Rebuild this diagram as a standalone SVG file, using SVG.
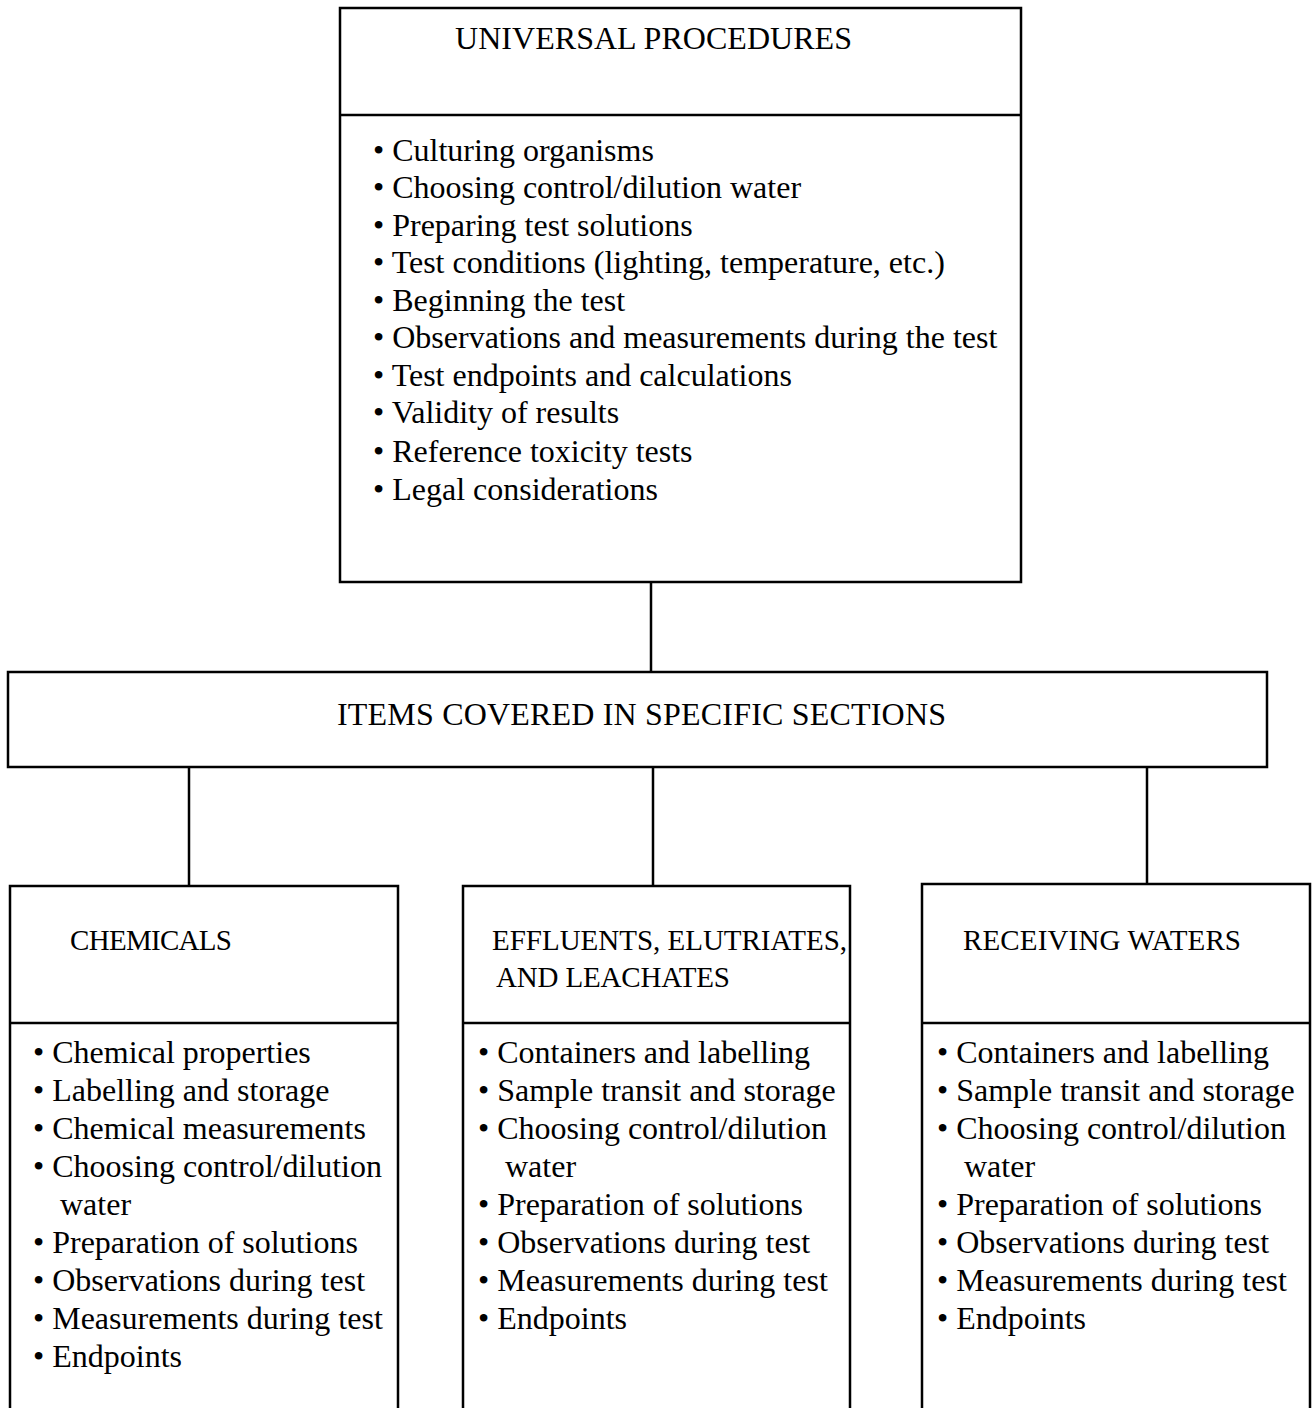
<svg xmlns="http://www.w3.org/2000/svg" width="1315" height="1408" viewBox="0 0 1315 1408">
<style>
rect.box{fill:none;stroke:#000;stroke-width:2.5}
line{stroke:#000;stroke-width:2.5}
text{font-family:"Liberation Serif","Times New Roman",serif;font-size:32px;fill:#000}
text.h{font-size:29px}
</style>
<rect width="1315" height="1408" fill="#fff"/>
<g id="connectors">
<line x1="651" y1="582" x2="651" y2="672"/>
<line x1="189" y1="767" x2="189" y2="886"/>
<line x1="653" y1="767" x2="653" y2="886"/>
<line x1="1147" y1="767" x2="1147" y2="885"/>
</g>
<g id="universal">
<rect class="box" x="340" y="8" width="681" height="574"/>
<line x1="340" y1="115" x2="1021" y2="115"/>
<text x="455" y="49" textLength="397">UNIVERSAL PROCEDURES</text>
<text x="373" y="161">• Culturing organisms</text>
<text x="373" y="198">• Choosing control/dilution water</text>
<text x="373" y="236">• Preparing test solutions</text>
<text x="373" y="273">• Test conditions (lighting, temperature, etc.)</text>
<text x="373" y="311">• Beginning the test</text>
<text x="373" y="348">• Observations and measurements during the test</text>
<text x="373" y="386">• Test endpoints and calculations</text>
<text x="373" y="423">• Validity of results</text>
<text x="373" y="462">• Reference toxicity tests</text>
<text x="373" y="500">• Legal considerations</text>
</g>
<g id="items">
<rect class="box" x="8" y="672" width="1259" height="95"/>
<text x="337" y="725" textLength="609">ITEMS COVERED IN SPECIFIC SECTIONS</text>
</g>
<g id="chemicals">
<path d="M10 1410 V886 H398 V1410" fill="none" stroke="#000" stroke-width="2.5"/>
<line x1="10" y1="1023" x2="398" y2="1023"/>
<text class="h" x="70" y="950" textLength="162">CHEMICALS</text>
<text x="33" y="1063">• Chemical properties</text>
<text x="33" y="1101">• Labelling and storage</text>
<text x="33" y="1139">• Chemical measurements</text>
<text x="33" y="1177">• Choosing control/dilution</text>
<text x="60" y="1215">water</text>
<text x="33" y="1253">• Preparation of solutions</text>
<text x="33" y="1291">• Observations during test</text>
<text x="33" y="1329">• Measurements during test</text>
<text x="33" y="1367">• Endpoints</text>
</g>
<g id="effluents">
<path d="M463 1410 V886 H850 V1410" fill="none" stroke="#000" stroke-width="2.5"/>
<line x1="463" y1="1023" x2="850" y2="1023"/>
<text class="h" x="492" y="950" textLength="355">EFFLUENTS, ELUTRIATES,</text>
<text class="h" x="496" y="987" textLength="234">AND LEACHATES</text>
<text x="478" y="1063">• Containers and labelling</text>
<text x="478" y="1101">• Sample transit and storage</text>
<text x="478" y="1139">• Choosing control/dilution</text>
<text x="505" y="1177">water</text>
<text x="478" y="1215">• Preparation of solutions</text>
<text x="478" y="1253">• Observations during test</text>
<text x="478" y="1291">• Measurements during test</text>
<text x="478" y="1329">• Endpoints</text>
</g>
<g id="receiving">
<path d="M922 1410 V884 H1310 V1410" fill="none" stroke="#000" stroke-width="2.5"/>
<line x1="922" y1="1023" x2="1310" y2="1023"/>
<text class="h" x="963" y="950" textLength="278">RECEIVING WATERS</text>
<text x="937" y="1063">• Containers and labelling</text>
<text x="937" y="1101">• Sample transit and storage</text>
<text x="937" y="1139">• Choosing control/dilution</text>
<text x="964" y="1177">water</text>
<text x="937" y="1215">• Preparation of solutions</text>
<text x="937" y="1253">• Observations during test</text>
<text x="937" y="1291">• Measurements during test</text>
<text x="937" y="1329">• Endpoints</text>
</g>
</svg>
